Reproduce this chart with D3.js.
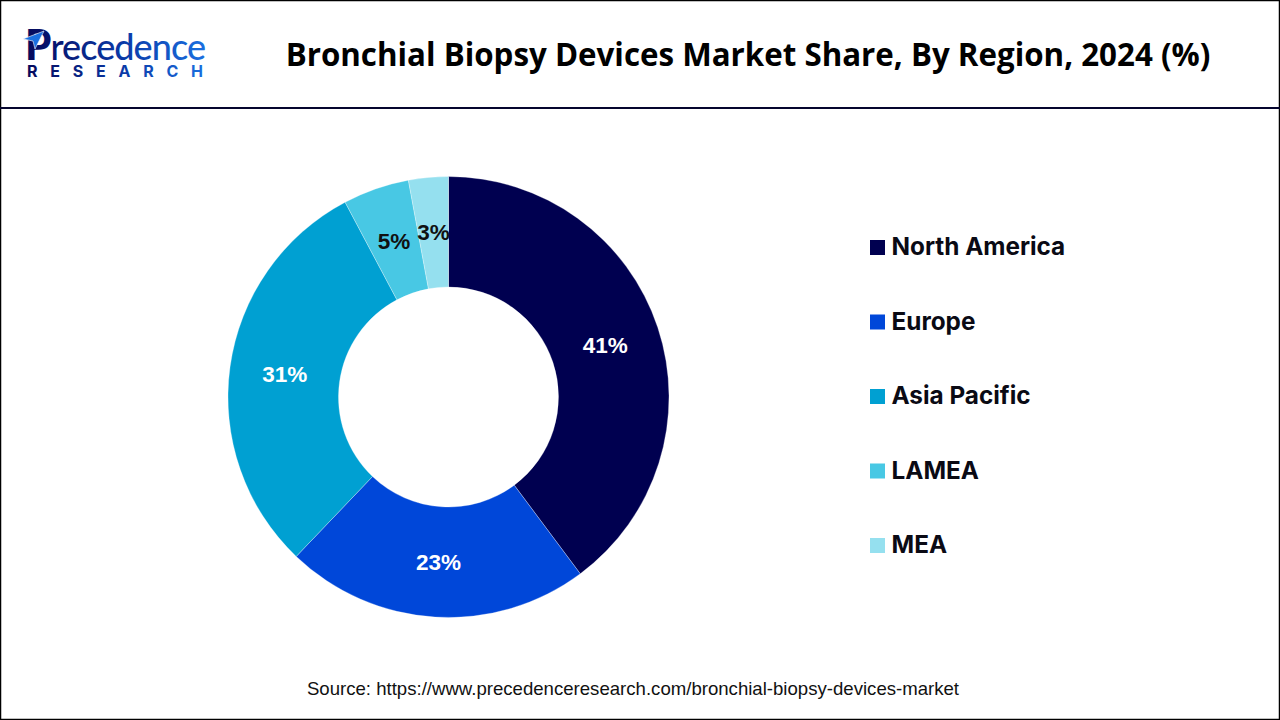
<!DOCTYPE html>
<html>
<head>
<meta charset="utf-8">
<script src="https://cdn.jsdelivr.net/npm/d3@7"></script>
<style>
html, body { margin: 0; padding: 0; background: #fff; }
svg { display: block; }
</style>
</head>
<body>
<svg id="chart"></svg>
<script>
var regions = ["North America", "Europe", "Asia Pacific", "LAMEA", "MEA"]
var shares = [41, 23, 31, 5, 3]
var colors = ["#000050", "#0047d9", "#00a0d2", "#48c8e4", "#95e0ef"]
var labelColors = ["#ffffff", "#ffffff", "#ffffff", "#111111", "#111111"]
var titleText = "Bronchial Biopsy Devices Market Share, By Region, 2024 (%)"
var sourceText = "Source: https://www.precedenceresearch.com/bronchial-biopsy-devices-market"

var dimensions = { width: 1280, height: 720 }

var svg = d3.select("#chart")
    .attr("width", dimensions.width)
    .attr("height", dimensions.height)

// outer frame and header rule
svg.append("rect")
    .attr("x", 0.5).attr("y", 0.5)
    .attr("width", dimensions.width - 1).attr("height", dimensions.height - 1)
    .attr("fill", "#fff").attr("stroke", "#000").attr("stroke-width", 1.5)

svg.append("line")
    .attr("x1", 0).attr("x2", dimensions.width)
    .attr("y1", 108).attr("y2", 108)
    .attr("stroke", "#05052e").attr("stroke-width", 2)

svg.append("text")
    .attr("x", 748).attr("y", 66)
    .attr("text-anchor", "middle")
    .style("font-family", "'Open Sans'")
    .style("font-weight", 700)
    .style("font-size", "31.3px")
    .attr("fill", "#000")
    .text(titleText)

// logo
var grad = svg.append("defs").append("linearGradient")
    .attr("id", "logoGrad")
    .attr("gradientUnits", "userSpaceOnUse")
    .attr("x1", 25).attr("x2", 205).attr("y1", 0).attr("y2", 0)
grad.append("stop").attr("offset", "0").attr("stop-color", "#05085a")
grad.append("stop").attr("offset", "0.55").attr("stop-color", "#0a3aa8")
grad.append("stop").attr("offset", "1").attr("stop-color", "#1a6fe0")

var logo = svg.append("g")
var logoName = logo.append("text")
    .attr("x", 25).attr("y", 60)
    .attr("textLength", 181)
    .style("font-family", "Lato")
    .style("font-weight", 500)
    .style("font-size", "36px")
    .attr("fill", "url(#logoGrad)")
logoName.append("tspan")
    .style("font-weight", 900)
    .style("font-size", "42px")
    .text("P")
logoName.append("tspan")
    .text("recedence")
logo.append("path")
    .attr("d", "M23 39 L44 31 L35 49 L33 41 Z")
    .attr("fill", "#1a6fe0")
    .attr("stroke", "#fff")
    .attr("stroke-width", 0.6)
logo.append("text")
    .attr("x", 27).attr("y", 77)
    .attr("textLength", 176)
    .style("font-family", "Inter")
    .style("font-weight", 700)
    .style("font-size", "16px")
    .attr("fill", "url(#logoGrad)")
    .text("RESEARCH")

// donut
var pie = d3.pie().sort(null)
var arc = d3.arc().innerRadius(110).outerRadius(220.5)

var donut = svg.append("g")
    .attr("transform", "translate(448.5, 397)")

var slices = pie(shares)

donut.selectAll("path")
    .data(slices)
    .join("path")
    .attr("d", arc)
    .attr("fill", function(d, i){ return colors[i] })
    .attr("stroke", "#fff")
    .attr("stroke-width", 0.3)

donut.selectAll("text")
    .data(slices)
    .join("text")
    .attr("transform", function(d){
        var c = arc.centroid(d)
        return "translate(" + c[0] + "," + c[1] + ")"
    })
    .attr("text-anchor", "middle")
    .attr("dy", "0.35em")
    .style("font-family", "'Liberation Sans'")
    .style("font-weight", 700)
    .style("font-size", "22.5px")
    .attr("fill", function(d, i){ return labelColors[i] })
    .text(function(d){ return d.data + "%" })

// legend
var legendY = d3.scalePoint().domain(regions).range([247.5, 545.5])

var legend = svg.append("g")
legend.selectAll("rect")
    .data(regions)
    .join("rect")
    .attr("x", 870)
    .attr("y", function(d){ return legendY(d) - 7.5 })
    .attr("width", 15).attr("height", 15)
    .attr("fill", function(d, i){ return colors[i] })

legend.selectAll("text")
    .data(regions)
    .join("text")
    .attr("x", 891.5)
    .attr("y", function(d){ return legendY(d) - 0.7 })
    .attr("dy", "0.35em")
    .style("font-family", "Inter")
    .style("font-weight", 700)
    .style("font-size", "24.3px")
    .attr("fill", "#0a0a14")
    .text(function(d){ return d })

svg.append("text")
    .attr("x", 633).attr("y", 695)
    .attr("text-anchor", "middle")
    .style("font-family", "'Liberation Sans'")
    .style("font-size", "18.6px")
    .attr("fill", "#111")
    .text(sourceText)
</script>
</body>
</html>
